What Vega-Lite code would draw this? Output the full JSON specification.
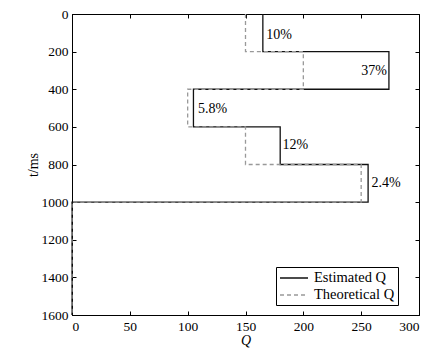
{
  "$schema": "https://vega.github.io/schema/vega-lite/v6.json",
  "width": 347,
  "height": 301,
  "autosize": {"type": "none"},
  "padding": {"left": 72, "top": 14, "right": 21, "bottom": 42},
  "background": "white",
  "config": {
    "view": {"stroke": "#000", "strokeWidth": 1},
    "font": "Times New Roman, Liberation Serif, serif",
    "axis": {
      "grid": false,
      "domainColor": "#000",
      "tickColor": "#000",
      "labelColor": "#000",
      "titleColor": "#000",
      "labelFont": "Times New Roman, Liberation Serif, serif",
      "titleFont": "Times New Roman, Liberation Serif, serif",
      "labelFontSize": 13.5,
      "titleFontSize": 14,
      "titleFontWeight": "normal",
      "tickSize": -4,
      "labelPadding": 8,
      "format": "d"
    },
    "legend": {
      "labelFont": "Times New Roman, Liberation Serif, serif",
      "labelFontSize": 14.5,
      "labelColor": "#000"
    }
  },
  "datasets": {
    "steps": [
      {"series": "Estimated Q", "i": 0, "Q": 165, "t": 0},
      {"series": "Estimated Q", "i": 1, "Q": 165, "t": 200},
      {"series": "Estimated Q", "i": 2, "Q": 274, "t": 200},
      {"series": "Estimated Q", "i": 3, "Q": 274, "t": 400},
      {"series": "Estimated Q", "i": 4, "Q": 105, "t": 400},
      {"series": "Estimated Q", "i": 5, "Q": 105, "t": 600},
      {"series": "Estimated Q", "i": 6, "Q": 180, "t": 600},
      {"series": "Estimated Q", "i": 7, "Q": 180, "t": 800},
      {"series": "Estimated Q", "i": 8, "Q": 256, "t": 800},
      {"series": "Estimated Q", "i": 9, "Q": 256, "t": 1000},
      {"series": "Estimated Q", "i": 10, "Q": 0, "t": 1000},
      {"series": "Estimated Q", "i": 11, "Q": 0, "t": 1600},
      {"series": "Theoretical Q", "i": 0, "Q": 150, "t": 0},
      {"series": "Theoretical Q", "i": 1, "Q": 150, "t": 200},
      {"series": "Theoretical Q", "i": 2, "Q": 200, "t": 200},
      {"series": "Theoretical Q", "i": 3, "Q": 200, "t": 400},
      {"series": "Theoretical Q", "i": 4, "Q": 100, "t": 400},
      {"series": "Theoretical Q", "i": 5, "Q": 100, "t": 600},
      {"series": "Theoretical Q", "i": 6, "Q": 150, "t": 600},
      {"series": "Theoretical Q", "i": 7, "Q": 150, "t": 800},
      {"series": "Theoretical Q", "i": 8, "Q": 250, "t": 800},
      {"series": "Theoretical Q", "i": 9, "Q": 250, "t": 1000},
      {"series": "Theoretical Q", "i": 10, "Q": 0, "t": 1000},
      {"series": "Theoretical Q", "i": 11, "Q": 0, "t": 1600}
    ],
    "labels": [
      {"Q": 168, "t": 112, "label": "10%"},
      {"Q": 250, "t": 303, "label": "37%"},
      {"Q": 109, "t": 505, "label": "5.8%"},
      {"Q": 182, "t": 697, "label": "12%"},
      {"Q": 259, "t": 899, "label": "2.4%"}
    ]
  },
  "layer": [
    {
      "data": {"name": "steps"},
      "mark": {"type": "line", "strokeWidth": 1.3},
      "encoding": {
        "x": {"field": "Q", "type": "quantitative", "scale": {"domain": [0, 300], "nice": false},
              "axis": {"values": [0, 50, 100, 150, 200, 250, 300], "title": "Q", "titleFontStyle": "italic", "titlePadding": 1}},
        "y": {"field": "t", "type": "quantitative", "scale": {"domain": [0, 1600], "reverse": true, "nice": false},
              "axis": {"values": [0, 200, 400, 600, 800, 1000, 1200, 1400, 1600], "title": "t/ms", "titlePadding": 1}},
        "order": {"field": "i", "type": "quantitative"},
        "color": {"field": "series", "type": "nominal",
                  "scale": {"domain": ["Estimated Q", "Theoretical Q"], "range": ["#111111", "#999999"]},
                  "legend": {"title": null, "orient": "none", "legendX": 204, "legendY": 253,
                             "strokeColor": "#000", "fillColor": "#fff", "padding": 3,
                             "symbolType": "M-1,0H3", "symbolSize": 196, "symbolStrokeWidth": 1.3, "labelOffset": 19, "rowPadding": 2}},
        "strokeDash": {"field": "series", "type": "nominal",
                  "scale": {"domain": ["Estimated Q", "Theoretical Q"], "range": [[1, 0], [4, 3]]},
                  "legend": {"title": null, "orient": "none", "legendX": 204, "legendY": 253,
                             "strokeColor": "#000", "fillColor": "#fff", "padding": 3,
                             "symbolType": "M-1,0H3", "symbolSize": 196, "symbolStrokeWidth": 1.3, "labelOffset": 19, "rowPadding": 2}}
      }
    },
    {
      "data": {"name": "steps"},
      "mark": {"type": "line", "opacity": 0},
      "encoding": {
        "x": {"field": "Q", "type": "quantitative", "scale": {"domain": [0, 300], "nice": false},
              "axis": {"orient": "top", "values": [0, 50, 100, 150, 200, 250, 300], "labels": false, "title": null, "domain": false}},
        "y": {"field": "t", "type": "quantitative", "scale": {"domain": [0, 1600], "reverse": true, "nice": false},
              "axis": {"orient": "right", "values": [0, 200, 400, 600, 800, 1000, 1200, 1400, 1600], "labels": false, "title": null, "domain": false}},
        "order": {"field": "i", "type": "quantitative"},
        "detail": {"field": "series"}
      }
    },
    {
      "data": {"name": "labels"},
      "mark": {"type": "text", "align": "left", "baseline": "middle", "fontSize": 14, "font": "Times New Roman, Liberation Serif, serif", "color": "#000"},
      "encoding": {
        "x": {"field": "Q", "type": "quantitative", "axis": null},
        "y": {"field": "t", "type": "quantitative", "axis": null},
        "text": {"field": "label"}
      }
    }
  ],
  "resolve": {"axis": {"x": "independent", "y": "independent"}}
}
